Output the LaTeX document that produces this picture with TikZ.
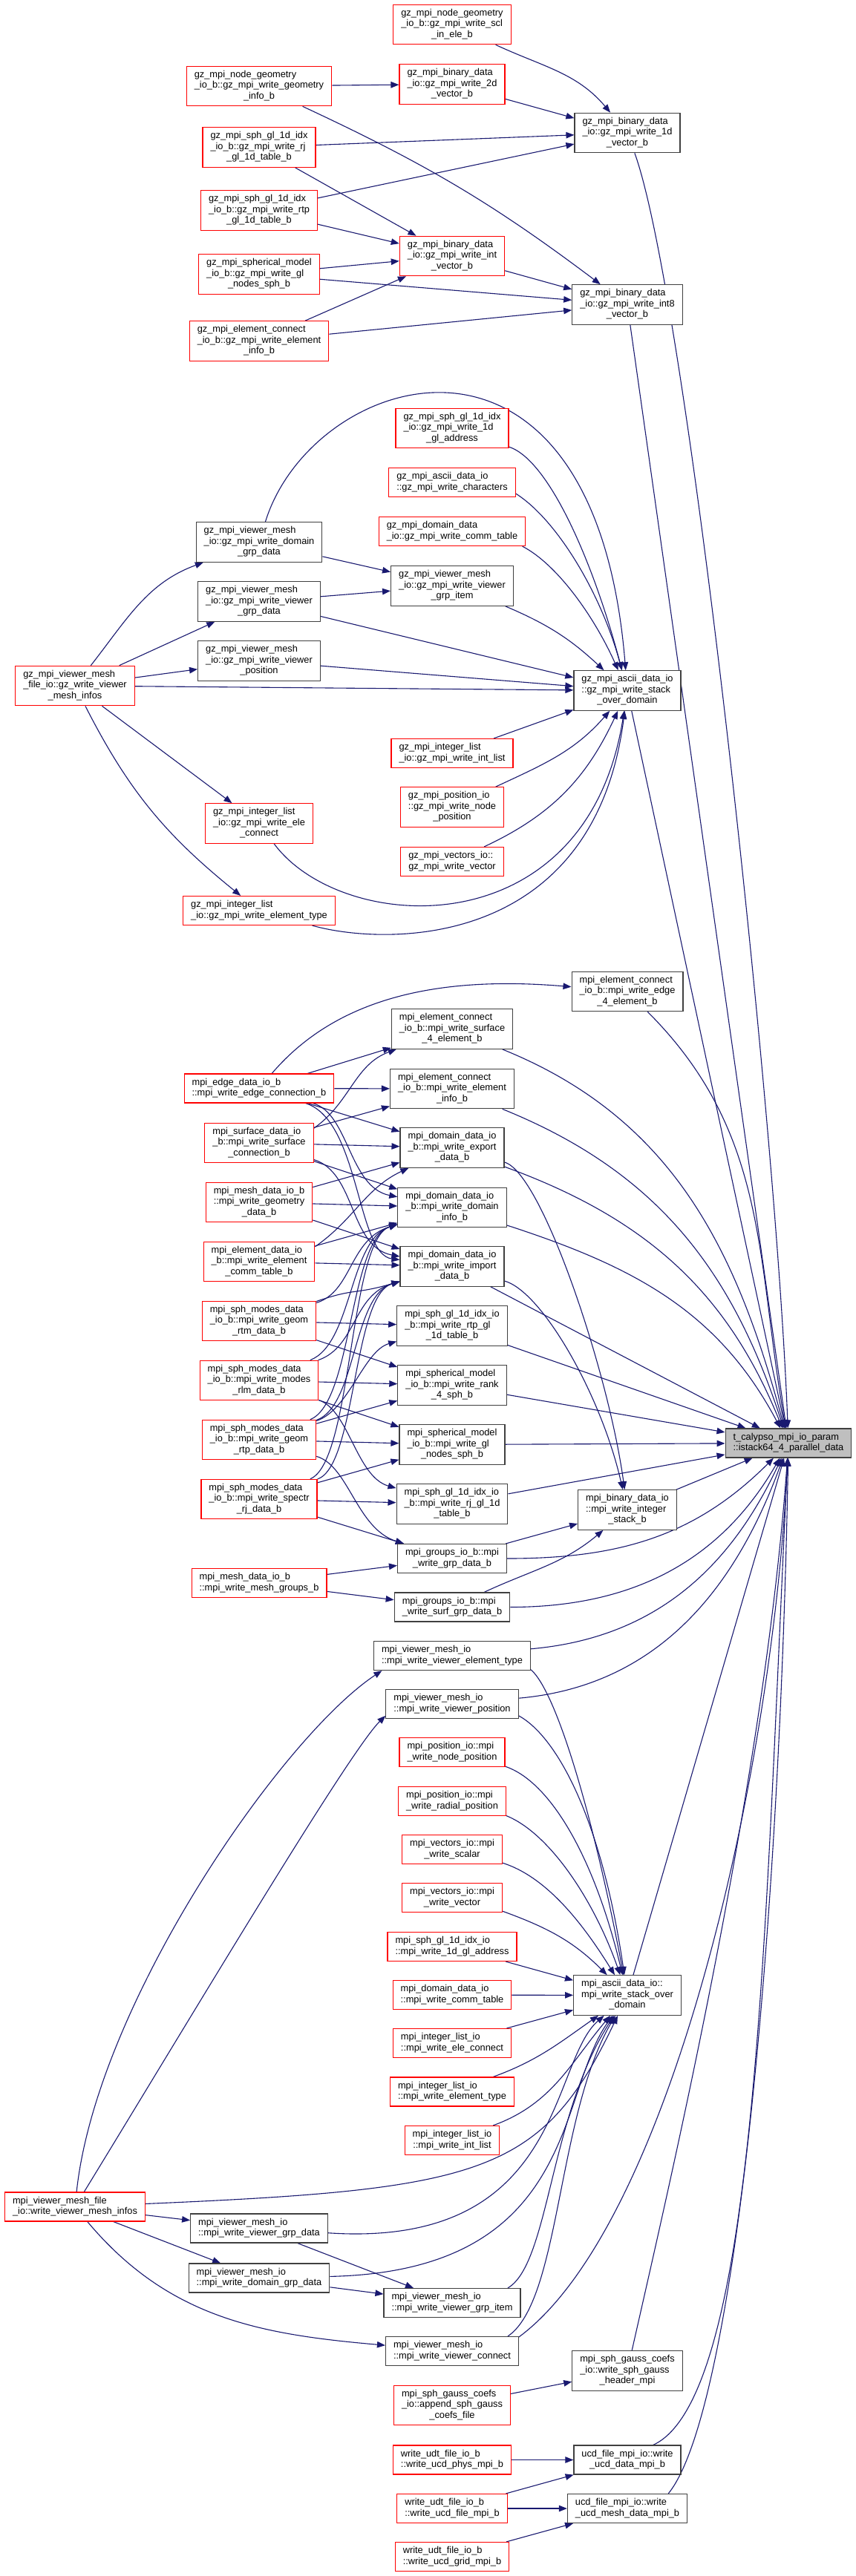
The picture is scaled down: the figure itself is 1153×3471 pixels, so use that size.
\documentclass[tikz,border=0pt]{standalone}
\usepackage{fontspec}
\setmainfont{Liberation Sans}
\usetikzlibrary{arrows.meta, backgrounds}

\definecolor{linkblue}{HTML}{191970}
\definecolor{rootgray}{HTML}{BFBFBF}
\definecolor{framegray}{HTML}{404040}

% first lines left aligned, last line centred (as graphviz does)
\newcommand{\fnlabel}[2]{%
  \begin{tabular}{@{}l@{}}#1\\\multicolumn{1}{@{}c@{}}{#2}\end{tabular}}

\begin{document}
\begin{tikzpicture}[
  x=1pt, y=1pt,
  every node/.style = {font=\fontsize{12.8}{14.5}\selectfont},
  fnbox/.style    = {rectangle, draw=framegray, line width=1.2pt, fill=white,
                     inner xsep=10.5pt, inner ysep=5pt},
  nodocbox/.style = {fnbox, draw=red},
  rootbox/.style  = {fnbox, fill=rootgray},
  link/.style = {-{Triangle[length=11pt, width=8.5pt]}, linkblue, line width=1.1pt},
]

\useasboundingbox (0,0) rectangle (1153,-3471);

%% ── gz binary writers ─────────────────────────────────────────────────────
\node[nodocbox] at (609,-33)    (gzscl)  {\fnlabel{gz\_mpi\_node\_geometry\\\_io\_b::gz\_mpi\_write\_scl}{\_in\_ele\_b}};
\node[nodocbox] at (609,-113.5) (gztwod) {\fnlabel{gz\_mpi\_binary\_data\\\_io::gz\_mpi\_write\_2d}{\_vector\_b}};
\node[fnbox]    at (845,-179)   (gzoned) {\fnlabel{gz\_mpi\_binary\_data\\\_io::gz\_mpi\_write\_1d}{\_vector\_b}};
\node[nodocbox] at (609,-345)   (gzint)  {\fnlabel{gz\_mpi\_binary\_data\\\_io::gz\_mpi\_write\_int}{\_vector\_b}};
\node[fnbox]    at (845,-410.5) (gzinteight) {\fnlabel{gz\_mpi\_binary\_data\\\_io::gz\_mpi\_write\_int8}{\_vector\_b}};

\node[nodocbox] at (349,-116)   (gzgeom)  {\fnlabel{gz\_mpi\_node\_geometry\\\_io\_b::gz\_mpi\_write\_geometry}{\_info\_b}};
\node[nodocbox] at (349,-198.5) (gzrj)    {\fnlabel{gz\_mpi\_sph\_gl\_1d\_idx\\\_io\_b::gz\_mpi\_write\_rj}{\_gl\_1d\_table\_b}};
\node[nodocbox] at (349,-283.5) (gzrtp)   {\fnlabel{gz\_mpi\_sph\_gl\_1d\_idx\\\_io\_b::gz\_mpi\_write\_rtp}{\_gl\_1d\_table\_b}};
\node[nodocbox] at (349,-369.5) (gzgln)   {\fnlabel{gz\_mpi\_spherical\_model\\\_io\_b::gz\_mpi\_write\_gl}{\_nodes\_sph\_b}};
\node[nodocbox] at (349,-459.5) (gzeinfo) {\fnlabel{gz\_mpi\_element\_connect\\\_io\_b::gz\_mpi\_write\_element}{\_info\_b}};

%% ── gz ascii writers ──────────────────────────────────────────────────────
\node[nodocbox] at (609,-577)    (gzgladdr) {\fnlabel{gz\_mpi\_sph\_gl\_1d\_idx\\\_io::gz\_mpi\_write\_1d}{\_gl\_address}};
\node[nodocbox] at (609,-650)    (gzchar)   {\fnlabel{gz\_mpi\_ascii\_data\_io}{::gz\_mpi\_write\_characters}};
\node[nodocbox] at (609,-716)    (gzcomm)   {\fnlabel{gz\_mpi\_domain\_data}{\_io::gz\_mpi\_write\_comm\_table}};
\node[fnbox]    at (609,-789.5)  (gzgitem)  {\fnlabel{gz\_mpi\_viewer\_mesh\\\_io::gz\_mpi\_write\_viewer}{\_grp\_item}};
\node[fnbox]    at (845,-930.5)  (gzstack)  {\fnlabel{gz\_mpi\_ascii\_data\_io\\::gz\_mpi\_write\_stack}{\_over\_domain}};
\node[nodocbox] at (609,-1015)   (gzilist)  {\fnlabel{gz\_mpi\_integer\_list}{\_io::gz\_mpi\_write\_int\_list}};
\node[nodocbox] at (609,-1087.5) (gznpos)   {\fnlabel{gz\_mpi\_position\_io\\::gz\_mpi\_write\_node}{\_position}};
\node[nodocbox] at (609,-1161)   (gzvec)    {\fnlabel{gz\_mpi\_vectors\_io::}{gz\_mpi\_write\_vector}};

\node[fnbox]    at (349,-730.5)  (gzdgrp)  {\fnlabel{gz\_mpi\_viewer\_mesh\\\_io::gz\_mpi\_write\_domain}{\_grp\_data}};
\node[fnbox]    at (349,-810.5)  (gzvgrp)  {\fnlabel{gz\_mpi\_viewer\_mesh\\\_io::gz\_mpi\_write\_viewer}{\_grp\_data}};
\node[fnbox]    at (349,-890.5)  (gzvpos)  {\fnlabel{gz\_mpi\_viewer\_mesh\\\_io::gz\_mpi\_write\_viewer}{\_position}};
\node[nodocbox] at (101,-924)    (gzinfos) {\fnlabel{gz\_mpi\_viewer\_mesh\\\_file\_io::gz\_write\_viewer}{\_mesh\_infos}};
\node[nodocbox] at (349,-1109.5) (gzelec)  {\fnlabel{gz\_mpi\_integer\_list\\\_io::gz\_mpi\_write\_ele}{\_connect}};
\node[nodocbox] at (349,-1227)   (gzetype) {\fnlabel{gz\_mpi\_integer\_list}{\_io::gz\_mpi\_write\_element\_type}};

%% ── mesh / sph binary callers ─────────────────────────────────────────────
\node[nodocbox] at (349,-1466.5) (edgec)   {\fnlabel{mpi\_edge\_data\_io\_b}{::mpi\_write\_edge\_connection\_b}};
\node[nodocbox] at (349,-1540)   (surfc)   {\fnlabel{mpi\_surface\_data\_io\\\_b::mpi\_write\_surface}{\_connection\_b}};
\node[nodocbox] at (349,-1620)   (geomd)   {\fnlabel{mpi\_mesh\_data\_io\_b\\::mpi\_write\_geometry}{\_data\_b}};
\node[nodocbox] at (349,-1700)   (ecomm)   {\fnlabel{mpi\_element\_data\_io\\\_b::mpi\_write\_element}{\_comm\_table\_b}};
\node[nodocbox] at (349,-1780)   (rtm)     {\fnlabel{mpi\_sph\_modes\_data\\\_io\_b::mpi\_write\_geom}{\_rtm\_data\_b}};
\node[nodocbox] at (349,-1860)   (rlm)     {\fnlabel{mpi\_sph\_modes\_data\\\_io\_b::mpi\_write\_modes}{\_rlm\_data\_b}};
\node[nodocbox] at (349,-1940)   (rtp)     {\fnlabel{mpi\_sph\_modes\_data\\\_io\_b::mpi\_write\_geom}{\_rtp\_data\_b}};
\node[nodocbox] at (349,-2020)   (rj)      {\fnlabel{mpi\_sph\_modes\_data\\\_io\_b::mpi\_write\_spectr}{\_rj\_data\_b}};
\node[nodocbox] at (349,-2133)   (meshgrp) {\fnlabel{mpi\_mesh\_data\_io\_b}{::mpi\_write\_mesh\_groups\_b}};

\node[fnbox] at (845,-1336)   (edgefour) {\fnlabel{mpi\_element\_connect\\\_io\_b::mpi\_write\_edge}{\_4\_element\_b}};
\node[fnbox] at (609,-1386.5) (surffour) {\fnlabel{mpi\_element\_connect\\\_io\_b::mpi\_write\_surface}{\_4\_element\_b}};
\node[fnbox] at (609,-1467)   (einfo)    {\fnlabel{mpi\_element\_connect\\\_io\_b::mpi\_write\_element}{\_info\_b}};
\node[fnbox] at (609,-1546.5) (export)   {\fnlabel{mpi\_domain\_data\_io\\\_b::mpi\_write\_export}{\_data\_b}};
\node[fnbox] at (609,-1627)   (dinfo)    {\fnlabel{mpi\_domain\_data\_io\\\_b::mpi\_write\_domain}{\_info\_b}};
\node[fnbox] at (609,-1706.5) (import)   {\fnlabel{mpi\_domain\_data\_io\\\_b::mpi\_write\_import}{\_data\_b}};
\node[fnbox] at (609,-1786.5) (rtpgl)    {\fnlabel{mpi\_sph\_gl\_1d\_idx\_io\\\_b::mpi\_write\_rtp\_gl}{\_1d\_table\_b}};
\node[fnbox] at (609,-1866.5) (rank)     {\fnlabel{mpi\_spherical\_model\\\_io\_b::mpi\_write\_rank}{\_4\_sph\_b}};
\node[fnbox] at (609,-1946.5) (glnodes)  {\fnlabel{mpi\_spherical\_model\\\_io\_b::mpi\_write\_gl}{\_nodes\_sph\_b}};
\node[fnbox] at (609,-2026.5) (rjgl)     {\fnlabel{mpi\_sph\_gl\_1d\_idx\_io\\\_b::mpi\_write\_rj\_gl\_1d}{\_table\_b}};
\node[fnbox] at (845,-2034.5) (istack)   {\fnlabel{mpi\_binary\_data\_io\\::mpi\_write\_integer}{\_stack\_b}};
\node[fnbox] at (609,-2100)   (grp)      {\fnlabel{mpi\_groups\_io\_b::mpi}{\_write\_grp\_data\_b}};
\node[fnbox] at (609,-2165.5) (surfgrp)  {\fnlabel{mpi\_groups\_io\_b::mpi}{\_write\_surf\_grp\_data\_b}};
\node[fnbox] at (609,-2231)   (vetype)   {\fnlabel{mpi\_viewer\_mesh\_io}{::mpi\_write\_viewer\_element\_type}};
\node[fnbox] at (609,-2296)   (vpos)     {\fnlabel{mpi\_viewer\_mesh\_io}{::mpi\_write\_viewer\_position}};

%% ── the called parameter ──────────────────────────────────────────────────
\node[rootbox] at (1062,-1944.5) (param) {\fnlabel{t\_calypso\_mpi\_io\_param}{::istack64\_4\_parallel\_data}};

%% ── ascii writers ─────────────────────────────────────────────────────────
\node[nodocbox] at (609,-2361)   (npos)   {\fnlabel{mpi\_position\_io::mpi}{\_write\_node\_position}};
\node[nodocbox] at (609,-2427)   (rpos)   {\fnlabel{mpi\_position\_io::mpi}{\_write\_radial\_position}};
\node[nodocbox] at (609,-2492)   (scalar) {\fnlabel{mpi\_vectors\_io::mpi}{\_write\_scalar}};
\node[nodocbox] at (609,-2557)   (vector) {\fnlabel{mpi\_vectors\_io::mpi}{\_write\_vector}};
\node[nodocbox] at (609,-2623)   (gladdr) {\fnlabel{mpi\_sph\_gl\_1d\_idx\_io}{::mpi\_write\_1d\_gl\_address}};
\node[nodocbox] at (609,-2688)   (comm)   {\fnlabel{mpi\_domain\_data\_io}{::mpi\_write\_comm\_table}};
\node[nodocbox] at (609,-2753)   (elec)   {\fnlabel{mpi\_integer\_list\_io}{::mpi\_write\_ele\_connect}};
\node[nodocbox] at (609,-2818.5) (etype)  {\fnlabel{mpi\_integer\_list\_io}{::mpi\_write\_element\_type}};
\node[nodocbox] at (609,-2884)   (ilist)  {\fnlabel{mpi\_integer\_list\_io}{::mpi\_write\_int\_list}};
\node[fnbox]    at (845,-2688.5) (stack)  {\fnlabel{mpi\_ascii\_data\_io::\\mpi\_write\_stack\_over}{\_domain}};

\node[nodocbox] at (101,-2973.5) (infos) {\fnlabel{mpi\_viewer\_mesh\_file}{\_io::write\_viewer\_mesh\_infos}};
\node[fnbox]    at (349,-3002.5) (vgrp)  {\fnlabel{mpi\_viewer\_mesh\_io}{::mpi\_write\_viewer\_grp\_data}};
\node[fnbox]    at (349,-3069.5) (dgrp)  {\fnlabel{mpi\_viewer\_mesh\_io}{::mpi\_write\_domain\_grp\_data}};
\node[fnbox]    at (609,-3103)   (gitem) {\fnlabel{mpi\_viewer\_mesh\_io}{::mpi\_write\_viewer\_grp\_item}};
\node[fnbox]    at (609,-3168)   (vconn) {\fnlabel{mpi\_viewer\_mesh\_io}{::mpi\_write\_viewer\_connect}};

%% ── gauss coefs and ucd files ─────────────────────────────────────────────
\node[fnbox]    at (845,-3194.5) (gheader) {\fnlabel{mpi\_sph\_gauss\_coefs\\\_io::write\_sph\_gauss}{\_header\_mpi}};
\node[nodocbox] at (609,-3241)   (gappend) {\fnlabel{mpi\_sph\_gauss\_coefs\\\_io::append\_sph\_gauss}{\_coefs\_file}};
\node[nodocbox] at (609,-3314.5) (uphys)   {\fnlabel{write\_udt\_file\_io\_b}{::write\_ucd\_phys\_mpi\_b}};
\node[fnbox]    at (845,-3314.5) (udata)   {\fnlabel{ucd\_file\_mpi\_io::write}{\_ucd\_data\_mpi\_b}};
\node[nodocbox] at (609,-3380)   (ufile)   {\fnlabel{write\_udt\_file\_io\_b}{::write\_ucd\_file\_mpi\_b}};
\node[fnbox]    at (845,-3380)   (umesh)   {\fnlabel{ucd\_file\_mpi\_io::write}{\_ucd\_mesh\_data\_mpi\_b}};
\node[nodocbox] at (609,-3445)   (ugrid)   {\fnlabel{write\_udt\_file\_io\_b}{::write\_ucd\_grid\_mpi\_b}};

\begin{scope}[on background layer]
\fill[white] (0,0) rectangle (1153,-3471);

%% ── gz binary calls ───────────────────────────────────────────────────────
\draw[link] (gzgeom)  -- (gztwod);
\draw[link] (gzgeom)  to[out=-25,in=143] (gzinteight);
\draw[link] (gzscl)   to[out=-25,in=130] (gzoned);
\draw[link] (gztwod)  -- (gzoned);
\draw[link] (gzrj)    -- (gzoned);
\draw[link] (gzrj)    -- (gzint);
\draw[link] (gzrtp)   -- (gzoned);
\draw[link] (gzrtp)   -- (gzint);
\draw[link] (gzgln)   -- (gzint);
\draw[link] (gzgln)   -- (gzinteight);
\draw[link] (gzeinfo) -- (gzint);
\draw[link] (gzeinfo) -- (gzinteight);
\draw[link] (gzint)   -- (gzinteight);
\draw[link] (gzoned) .. controls (925,-400) and (1045,-1500) .. (param);
\draw[link] (gzinteight) -- (param);

%% ── gz ascii calls ────────────────────────────────────────────────────────
\draw[link] (gzdgrp) .. controls (420,-500) and (800,-380) .. (gzstack);
\draw[link] (gzgladdr) .. controls (740,-620) and (800,-760) .. (gzstack);
\draw[link] (gzchar.-10) .. controls (750,-700) and (810,-800) .. (gzstack);
\draw[link] (gzcomm.-12) .. controls (750,-760) and (800,-830) .. (gzstack);
\draw[link] (gzgitem) to[bend left=10] (gzstack);
\draw[link] (gzdgrp)  -- (gzgitem);
\draw[link] (gzvgrp)  -- (gzgitem);
\draw[link] (gzvgrp)  -- (gzstack);
\draw[link] (gzvpos)  -- (gzstack);
\draw[link] (gzinfos) -- (gzstack);
\draw[link] (gzinfos) to[out=52,in=-160] (gzdgrp);
\draw[link] (gzinfos) -- (gzvgrp);
\draw[link] (gzinfos) -- (gzvpos);
\draw[link] (gzinfos) -- (gzelec);
\draw[link] (gzinfos) to[out=-63,in=141] (gzetype);
\draw[link] (gzelec)  .. controls (460,-1260) and (790,-1280) .. (gzstack);
\draw[link] (gzetype) .. controls (520,-1275) and (800,-1280) .. (gzstack);
\draw[link] (gzilist) -- (gzstack);
\draw[link] (gznpos)  to[out=25,in=-131] (gzstack);
\draw[link] (gzvec)   to[out=25,in=-115] (gzstack);
\draw[link] (gzstack) -- (param);

%% ── mesh data calls ───────────────────────────────────────────────────────
\draw[link] (edgec) .. controls (440,-1360) and (560,-1312) .. (edgefour);
\draw[link] (edgec) -- (surffour);
\draw[link] (edgec) -- (einfo);
\draw[link] (edgec) -- (export);
\draw[link] (edgec) .. controls (470,-1500) and (470,-1600) .. (dinfo);
\draw[link] (edgec) .. controls (485,-1510) and (480,-1690) .. (import);
\draw[link] (surfc.15) to[out=35,in=-160] (surffour);
\draw[link] (surfc) -- (einfo);
\draw[link] (surfc) -- (export);
\draw[link] (surfc) -- (dinfo);
\draw[link] (surfc) .. controls (480,-1580) and (470,-1680) .. (import);
\draw[link] (geomd) -- (export);
\draw[link] (geomd) -- (dinfo);
\draw[link] (geomd) -- (import);
\draw[link] (ecomm.15) to[out=35,in=-155] (export);
\draw[link] (ecomm) -- (dinfo);
\draw[link] (ecomm) -- (import);

%% ── spherical modes calls ─────────────────────────────────────────────────
\draw[link] (rtm) .. controls (475,-1740) and (470,-1670) .. (dinfo);
\draw[link] (rtm) .. controls (480,-1735) and (475,-1745) .. (import);
\draw[link] (rlm) .. controls (475,-1810) and (470,-1670) .. (dinfo);
\draw[link] (rlm) .. controls (480,-1815) and (475,-1745) .. (import);
\draw[link] (rtp) .. controls (475,-1890) and (470,-1670) .. (dinfo);
\draw[link] (rtp) .. controls (480,-1895) and (475,-1745) .. (import);
\draw[link] (rj)  .. controls (475,-1970) and (470,-1670) .. (dinfo);
\draw[link] (rj)  .. controls (480,-1975) and (475,-1745) .. (import);
\draw[link] (rtm) -- (rtpgl);
\draw[link] (rtm) -- (rank);
\draw[link] (rlm) -- (rank);
\draw[link] (rlm) -- (glnodes);
\draw[link] (rlm) .. controls (470,-1900) and (480,-1990) .. (rjgl);
\draw[link] (rtp) .. controls (470,-1900) and (490,-1820) .. (rtpgl);
\draw[link] (rtp) -- (rank);
\draw[link] (rtp) -- (glnodes);
\draw[link] (rtp) .. controls (470,-1975) and (480,-2060) .. (grp);
\draw[link] (rj)  -- (glnodes);
\draw[link] (rj)  -- (rjgl);
\draw[link] (rj)  -- (grp);
\draw[link] (meshgrp) -- (grp);
\draw[link] (meshgrp) -- (surfgrp);

%% ── into the parameter ────────────────────────────────────────────────────
\draw[link] (edgefour) to[out=-45,in=100] (param);
\draw[link] (surffour) to[out=-22,in=105] (param);
\draw[link] (einfo)    to[out=-22,in=108] (param);
\draw[link] (export)   to[out=-20,in=112] (param);
\draw[link] (dinfo)    to[out=-18,in=118] (param);
\draw[link] (import)   -- (param);
\draw[link] (rtpgl)    -- (param);
\draw[link] (rank)     -- (param);
\draw[link] (glnodes)  -- (param);
\draw[link] (rjgl)     -- (param);
\draw[link] (istack)   -- (param);
\draw[link] (export) .. controls (730,-1580) and (820,-1850) .. (istack);
\draw[link] (import) .. controls (730,-1740) and (810,-1880) .. (istack);
\draw[link] (grp)      -- (istack);
\draw[link] (grp)      to[out=0,in=-135] (param);
\draw[link] (surfgrp)  to[out=25,in=-140] (istack);
\draw[link] (surfgrp)  to[out=0,in=-120] (param);
\draw[link] (vetype)   to[out=5,in=-115] (param);
\draw[link] (vpos)     to[out=5,in=-110] (param);

%% ── ascii stack calls ─────────────────────────────────────────────────────
\draw[link] (stack) -- (param);
\draw[link] (vetype.-10) .. controls (750,-2280) and (800,-2450) .. (stack);
\draw[link] (vpos.-10)   .. controls (750,-2340) and (810,-2450) .. (stack);
\draw[link] (npos.-15)   .. controls (740,-2400) and (800,-2500) .. (stack);
\draw[link] (rpos.-15)   .. controls (740,-2470) and (800,-2560) .. (stack);
\draw[link] (scalar.-15) .. controls (740,-2530) and (790,-2600) .. (stack);
\draw[link] (vector.-15) to[out=-20,in=135] (stack);
\draw[link] (gladdr) -- (stack);
\draw[link] (comm)   -- (stack);
\draw[link] (elec)   -- (stack);
\draw[link] (etype)  to[out=20,in=-145] (stack);
\draw[link] (ilist)  to[out=20,in=-130] (stack);

%% ── viewer mesh calls ─────────────────────────────────────────────────────
\draw[link] (infos) .. controls (650,-2950) and (730,-2930) .. (stack);
\draw[link] (vgrp)  .. controls (760,-3030) and (740,-2780) .. (stack);
\draw[link] (dgrp)  .. controls (780,-3060) and (750,-2820) .. (stack);
\draw[link] (gitem.15) .. controls (740,-3050) and (740,-2850) .. (stack);
\draw[link] (vconn.15) .. controls (755,-3100) and (750,-2850) .. (stack);
\draw[link] (infos) -- (vgrp);
\draw[link] (infos) -- (dgrp);
\draw[link] (vgrp)  -- (gitem);
\draw[link] (dgrp)  -- (gitem);
\draw[link] (infos) to[out=-50,in=175] (vconn);
\draw[link] (infos) .. controls (130,-2700) and (380,-2340) .. (vetype.-168);
\draw[link] (infos) .. controls (250,-2730) and (470,-2360) .. (vpos.-170);
\draw[link] (vconn.12) .. controls (900,-3000) and (1040,-2400) .. (param);

%% ── gauss coefs and ucd calls ─────────────────────────────────────────────
\draw[link] (gappend) -- (gheader);
\draw[link] (gheader) .. controls (900,-2950) and (1030,-2400) .. (param);
\draw[link] (uphys) -- (udata);
\draw[link] (ufile) -- (udata);
\draw[link] (ufile) -- (umesh);
\draw[link] (ugrid) -- (umesh);
\draw[link] (udata.30) .. controls (1020,-3230) and (1030,-2600) .. (param);
\draw[link] (umesh.20) .. controls (990,-3250) and (1050,-2600) .. (param);
\end{scope}

\end{tikzpicture}
\end{document}
